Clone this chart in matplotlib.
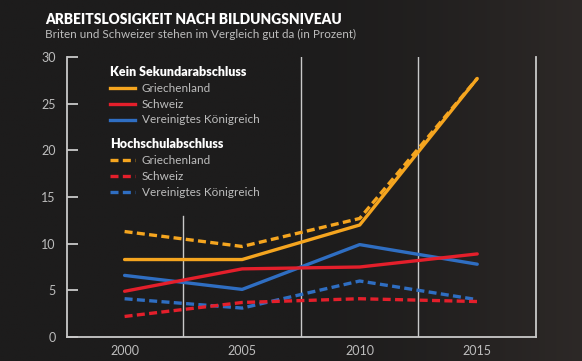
import matplotlib
matplotlib.use("Agg")
import matplotlib.pyplot as plt
import numpy as np
from matplotlib.lines import Line2D
from matplotlib.colors import LinearSegmentedColormap

years = [2000, 2005, 2010, 2015]
gr_kein = [8.3, 8.3, 12.0, 27.7]
ch_kein = [4.9, 7.3, 7.5, 8.9]
uk_kein = [6.6, 5.1, 9.9, 7.8]
gr_hoch = [11.3, 9.7, 12.7, 27.7]
ch_hoch = [2.2, 3.7, 4.1, 3.8]
uk_hoch = [4.1, 3.1, 6.0, 4.0]
yticks = [0, 5, 10, 15, 20, 25, 30]
xticks = [2000, 2005, 2010, 2015]

ORANGE = "#f5a51f"
RED = "#e41f2b"
BLUE = "#2f6ec2"
BG = "#1d1c1c"
AX = "#c9c9c9"
TXT = "#bdbdbd"

plt.rcParams['font.family'] = ['Lato', 'DejaVu Sans']

fig = plt.figure(figsize=(5.82, 3.61), dpi=100, facecolor=BG)
bgax = fig.add_axes([0, 0, 1, 1])
bgax.set_axis_off()
gx = np.linspace(0, 1, 300)
gy = np.linspace(0, 1, 200)
GX, GY = np.meshgrid(gx, gy)
grad = np.clip((GX - 0.5) / 0.5, 0, 1) ** 1.5 * 0.55 + 0.0 * GY
cmap = LinearSegmentedColormap.from_list("bg", [BG, "#3a3330"])
bgax.imshow(grad, cmap=cmap, aspect='auto', extent=[0, 1, 0, 1], vmin=0, vmax=1)

H = 361.0
ax = fig.add_axes([67/582, (H-337)/H, (536-67)/582, (337-57)/H])
ax.set_facecolor('none')
ax.set_xlim(1997.55, 2017.5)
ax.set_ylim(0, 30)

ax.spines['top'].set_visible(False)
for s in ['left', 'bottom', 'right']:
    ax.spines[s].set_color(AX)
    ax.spines[s].set_linewidth(1.3)

ax.axvline(2002.5, ymin=0, ymax=13/30, color=AX, lw=1.0)
ax.axvline(2007.5, color=AX, lw=1.0)
ax.axvline(2012.5, color=AX, lw=1.0)

ax.set_yticks(yticks)
ax.set_xticks(xticks)
ax.tick_params(axis='y', direction='in', length=8, width=1.3, color=AX,
               labelcolor=TXT, labelsize=9, pad=8)
ax.tick_params(axis='x', length=0, labelcolor=TXT, labelsize=9, pad=6)

lw = 2.4
dash = (0, (2.4, 1.3))
ax.plot(years, gr_kein, color=ORANGE, lw=lw, solid_capstyle='round', zorder=3)
ax.plot(years, ch_kein, color=RED, lw=lw, solid_capstyle='round', zorder=3)
ax.plot(years, uk_kein, color=BLUE, lw=lw, solid_capstyle='round', zorder=2)
ax.plot(years, gr_hoch, color=ORANGE, lw=lw, ls=dash, zorder=3)
ax.plot(years, ch_hoch, color=RED, lw=lw, ls=dash, zorder=3)
ax.plot(years, uk_hoch, color=BLUE, lw=lw, ls=dash, zorder=2)

def fx(px):
    return px / 582
def fy(py):
    return 1 - py / H

fig.text(fx(45), fy(19), "ARBEITSLOSIGKEIT NACH BILDUNGSNIVEAU", color='white',
         fontsize=9.9, fontweight='heavy', va='center', ha='left')
fig.text(fx(45), fy(34), "Briten und Schweizer stehen im Vergleich gut da (in Prozent)",
         color=TXT, fontsize=8.4, va='center', ha='left')

groups = [
    ("Kein Sekundarabschluss", 72, '-', [(ORANGE, "Griechenland"), (RED, "Schweiz"), (BLUE, "Vereinigtes Königreich")]),
    ("Hochschulabschluss", 144, dash, [(ORANGE, "Griechenland"), (RED, "Schweiz"), (BLUE, "Vereinigtes Königreich")]),
]
for head, y0, ls, items in groups:
    fig.text(fx(110), fy(y0), head, color='white', fontsize=9, fontweight='heavy',
             va='center', ha='left')
    for i, (c, lab) in enumerate(items):
        yy = y0 + 16 * (i + 1)
        fig.add_artist(Line2D([fx(110), fx(135)], [fy(yy), fy(yy)], color=c, lw=2.4, ls=ls))
        fig.text(fx(142), fy(yy), lab, color=TXT, fontsize=8.5, va='center', ha='left')

fig.savefig("out.png", dpi=100, facecolor=BG)
